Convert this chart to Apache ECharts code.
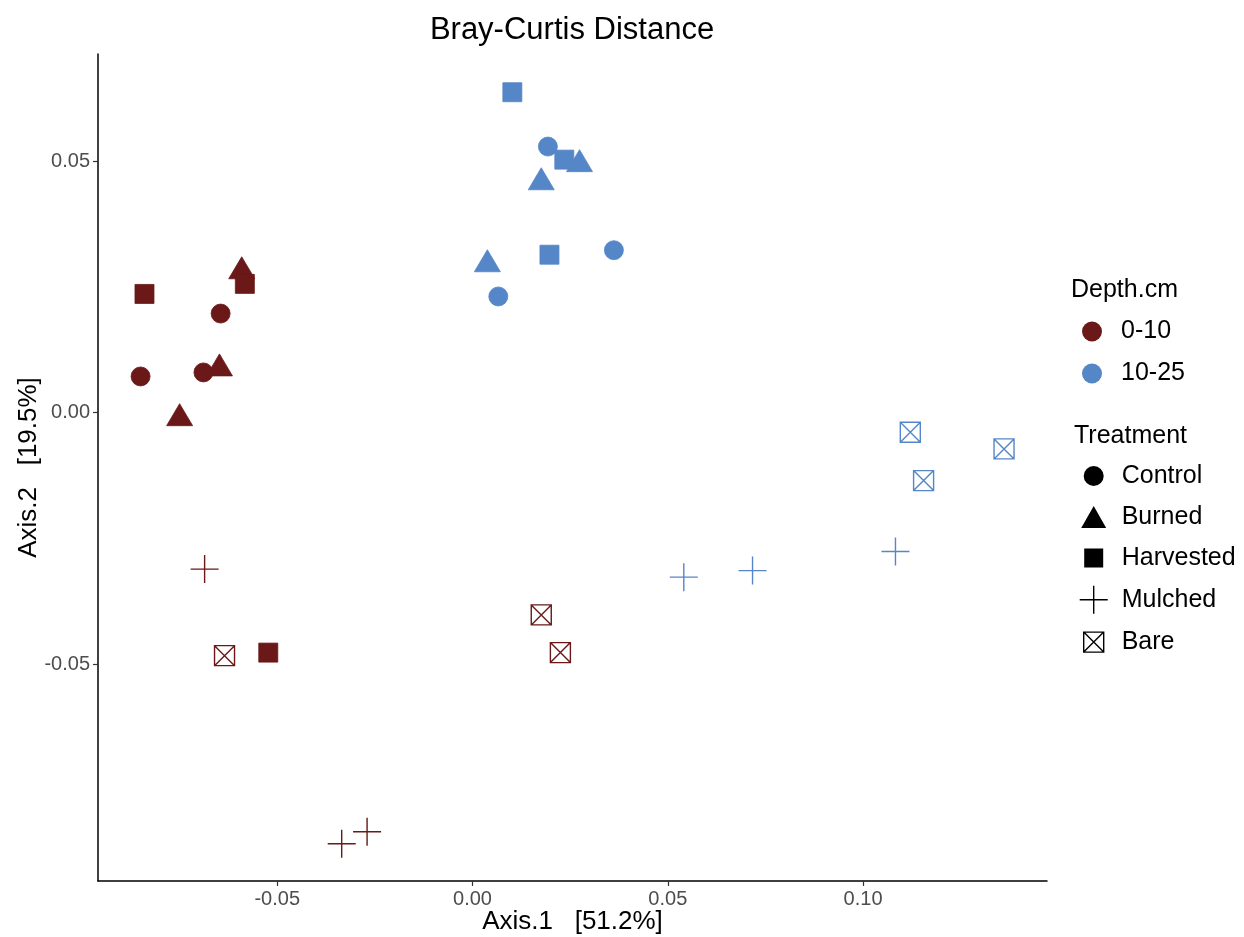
<!DOCTYPE html>
<html>
<head>
<meta charset="utf-8">
<script src="https://cdn.jsdelivr.net/npm/echarts@6/dist/echarts.min.js"></script>
<style>
html, body { margin: 0; padding: 0; background: #ffffff; }
#chart { width: 1244px; height: 937px; }
</style>
</head>
<body>
<div id="chart"></div>
<script>
// ---------- data ----------
const depthLevels = ['0-10', '10-25'];
const treatmentLevels = ['Control', 'Burned', 'Harvested', 'Mulched', 'Bare'];
const xTicks = [-0.05, 0.00, 0.05, 0.10];
const yTicks = [-0.05, 0.00, 0.05];

// [Axis.1, Axis.2] — depth 0-10 cm
const d010Control   = [[-0.0850, 0.0072], [-0.0645, 0.0197], [-0.0689, 0.0080]];
const d010Burned    = [[-0.0750, -0.0004], [-0.0648, 0.0095], [-0.0591, 0.0288]];
const d010Harvested = [[-0.0840, 0.0236], [-0.0583, 0.0256], [-0.0523, -0.0477]];
const d010Mulched   = [[-0.0686, -0.0311], [-0.0335, -0.0857], [-0.0270, -0.0833]];
const d010Bare      = [[-0.0635, -0.0483], [0.0176, -0.0402], [0.0225, -0.0477]];
// depth 10-25 cm
const d1025Control   = [[0.0193, 0.0529], [0.0362, 0.0323], [0.0066, 0.0231]];
const d1025Burned    = [[0.0274, 0.0501], [0.0176, 0.0465], [0.0038, 0.0302]];
const d1025Harvested = [[0.0102, 0.0637], [0.0235, 0.0503], [0.0197, 0.0314]];
const d1025Mulched   = [[0.0541, -0.0327], [0.0717, -0.0314], [0.1083, -0.0276]];
const d1025Bare      = [[0.1121, -0.0039], [0.1361, -0.0072], [0.1155, -0.0135]];

// ---------- styling ----------
const FONT = '"Liberation Sans", Arial, Helvetica, sans-serif';
const depthColors = { '0-10': '#6A1818', '10-25': '#5586C7' };
const shapeSpec = {
  Control:   { symbol: 'circle', size: 19, filled: true },
  Burned:    { symbol: 'triangle', size: [26, 22], filled: true },
  Harvested: { symbol: 'rect', size: 19, filled: true },
  Mulched:   { symbol: 'path://M14,0L14,28M0,14L28,14', size: 28, filled: false },
  Bare:      { symbol: 'path://M0,0L20,0L20,20L0,20ZM0,0L20,20M20,0L0,20', size: 20, filled: false }
};
const legendIcons = {
  Control:   'path://M0,0M28,28M4,14A10,10 0 1,1 24,14A10,10 0 1,1 4,14Z',
  Burned:    'path://M0,0M28,28M14,3L26.5,25L1.5,25Z',
  Harvested: 'path://M0,0M28,28M4.5,4.5L23.5,4.5L23.5,23.5L4.5,23.5Z',
  Mulched:   'path://M14,0L14,28M0,14L28,14',
  Bare:      'path://M0,0M28,28M4,4L24,4L24,24L4,24ZM4,4L24,24M24,4L4,24'
};

const groups = [
  ['0-10', 'Control', d010Control], ['0-10', 'Burned', d010Burned],
  ['0-10', 'Harvested', d010Harvested], ['0-10', 'Mulched', d010Mulched],
  ['0-10', 'Bare', d010Bare],
  ['10-25', 'Control', d1025Control], ['10-25', 'Burned', d1025Burned],
  ['10-25', 'Harvested', d1025Harvested], ['10-25', 'Mulched', d1025Mulched],
  ['10-25', 'Bare', d1025Bare]
];

const series = groups.map(([depth, treat, data]) => {
  const s = shapeSpec[treat];
  const c = depthColors[depth];
  return {
    name: depth + ' ' + treat,
    type: 'scatter',
    data: data,
    symbol: s.symbol,
    symbolSize: s.size,
    itemStyle: s.filled
      ? { color: c, borderColor: c, borderWidth: 0.8, opacity: 1 }
      : { color: 'rgba(0,0,0,0)', borderColor: c, borderWidth: 1.4, opacity: 1 },
    emphasis: { disabled: true }
  };
});
// legend-only series
depthLevels.forEach(d => series.push({
  name: d, type: 'scatter', data: [], symbol: 'circle',
  itemStyle: { color: depthColors[d], opacity: 1 }
}));
treatmentLevels.forEach(t => series.push({
  name: t, type: 'scatter', data: [], symbol: shapeSpec[t].symbol,
  itemStyle: { color: '#000', opacity: 1 }
}));

const chart = echarts.init(document.getElementById('chart'), null, { renderer: 'canvas' });
chart.setOption({
  animation: false,
  backgroundColor: '#ffffff',
  title: {
    text: 'Bray-Curtis Distance',
    left: 567, top: 10, textAlign: 'center',
    textStyle: { fontFamily: FONT, fontSize: 31, fontWeight: 'normal', color: '#000' }
  },
  grid: { left: 98, right: 197, top: 54, bottom: 56, outerBoundsMode: 'none', containLabel: false },
  xAxis: {
    type: 'value', min: -0.0959, max: 0.1471,
    splitLine: { show: false },
    axisLine: { show: true, onZero: false, lineStyle: { color: '#000', width: 1.5 } },
    axisTick: { show: true, length: 5, customValues: xTicks, lineStyle: { color: '#333', width: 1.2 } },
    axisLabel: { customValues: xTicks, formatter: v => v.toFixed(2), fontFamily: FONT, fontSize: 20, color: '#4d4d4d', margin: 8 },
    name: 'Axis.1   [51.2%]', nameLocation: 'middle', nameGap: 28, nameMoveOverlap: false,
    nameTextStyle: { fontFamily: FONT, fontSize: 26, color: '#000' }
  },
  yAxis: {
    type: 'value', min: -0.0931, max: 0.0713,
    splitLine: { show: false },
    axisLine: { show: true, onZero: false, lineStyle: { color: '#000', width: 1.5 } },
    axisTick: { show: true, length: 5, customValues: yTicks, lineStyle: { color: '#333', width: 1.2 } },
    axisLabel: { customValues: yTicks, formatter: v => v.toFixed(2), fontFamily: FONT, fontSize: 20, color: '#4d4d4d', margin: 8 },
    name: 'Axis.2   [19.5%]', nameLocation: 'middle', nameGap: 56, nameMoveOverlap: false,
    nameTextStyle: { fontFamily: FONT, fontSize: 26, color: '#000' }
  },
  legend: [
    {
      data: depthLevels.map(d => ({ name: d, icon: 'circle', itemStyle: { color: depthColors[d], opacity: 1 } })),
      orient: 'vertical', left: 1082, top: 319, padding: 0,
      itemWidth: 20, itemHeight: 20, itemGap: 17, selectedMode: false,
      textStyle: { fontFamily: FONT, fontSize: 25, color: '#000', padding: [0, 0, 0, 14] }
    },
    {
      data: treatmentLevels.map(t => ({
        name: t, icon: legendIcons[t],
        itemStyle: shapeSpec[t].filled
          ? { color: '#000', borderWidth: 0, opacity: 1 }
          : { color: 'rgba(0,0,0,0)', borderColor: '#000', borderWidth: 1.4, opacity: 1 }
      })),
      orient: 'vertical', left: 1079, top: 462, padding: 0,
      itemWidth: 28, itemHeight: 28, itemGap: 13, selectedMode: false,
      textStyle: { fontFamily: FONT, fontSize: 25, color: '#000', lineHeight: 28, padding: [0, 0, 0, 9] }
    }
  ],
  graphic: [
    { type: 'text', x: 1071, y: 290, style: { text: 'Depth.cm', font: '25px ' + FONT, fill: '#000', verticalAlign: 'middle' } },
    { type: 'text', x: 1074, y: 436, style: { text: 'Treatment', font: '25px ' + FONT, fill: '#000', verticalAlign: 'middle' } }
  ],
  series: series
});
</script>
</body>
</html>
